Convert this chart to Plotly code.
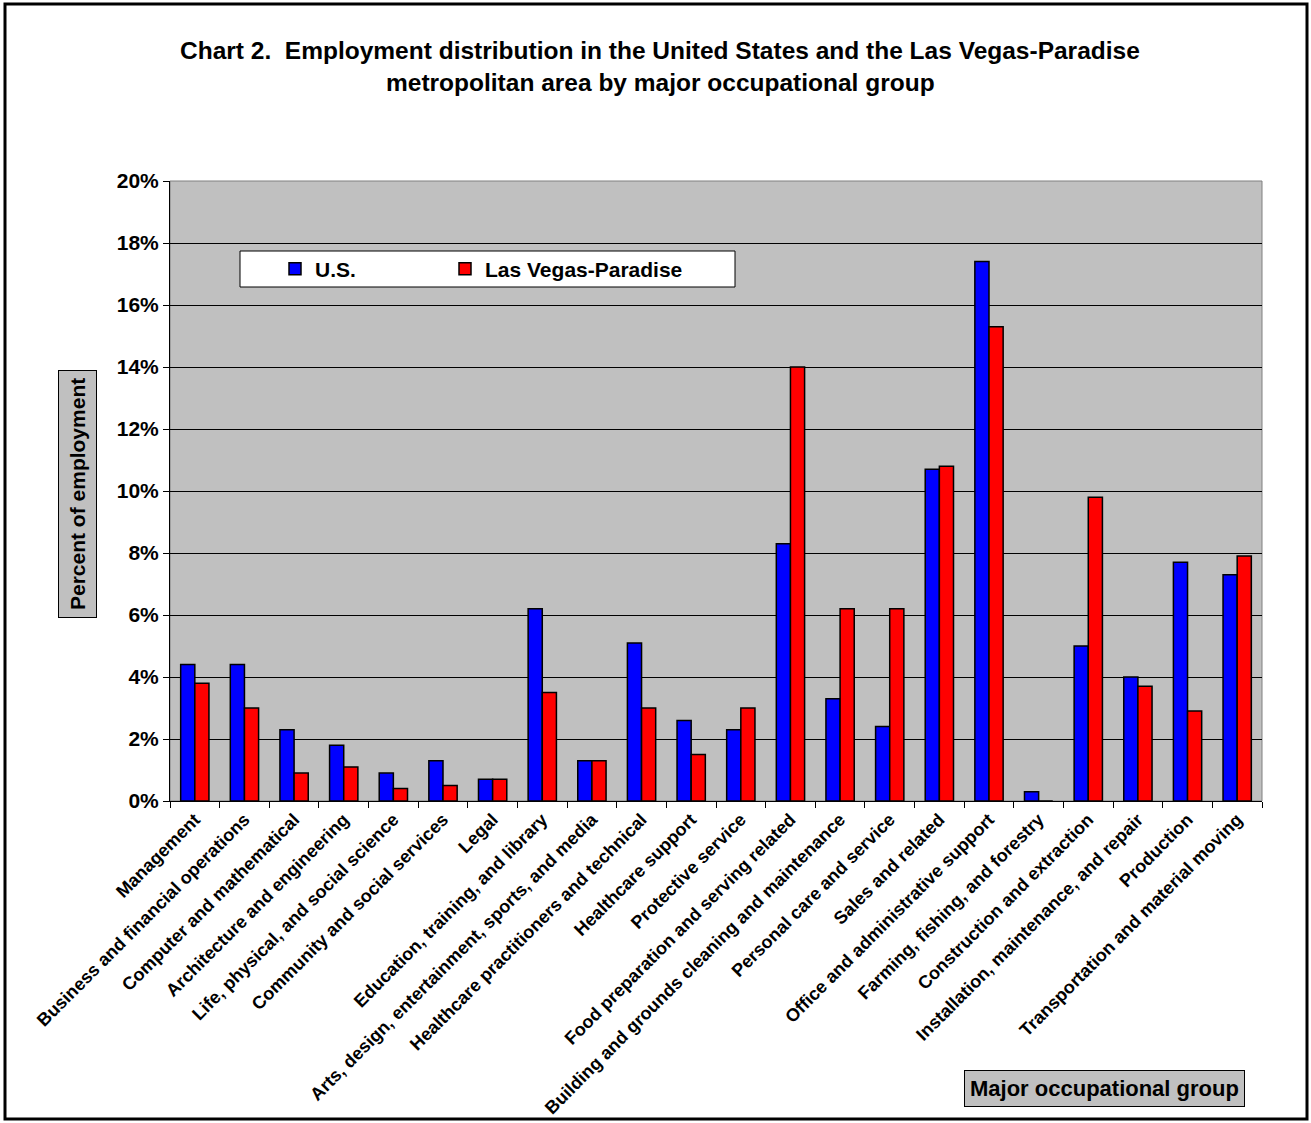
import plotly.graph_objects as go

categories = [
    "Management", "Business and financial operations", "Computer and mathematical",
    "Architecture and engineering", "Life, physical, and social science",
    "Community and social services", "Legal", "Education, training, and library",
    "Arts, design, entertainment, sports, and media", "Healthcare practitioners and technical",
    "Healthcare support", "Protective service", "Food preparation and serving related",
    "Building and grounds cleaning and maintenance", "Personal care and service",
    "Sales and related", "Office and administrative support", "Farming, fishing, and forestry",
    "Construction and extraction", "Installation, maintenance, and repair", "Production",
    "Transportation and material moving",
]
us_values = [4.4, 4.4, 2.3, 1.8, 0.9, 1.3, 0.7, 6.2, 1.3, 5.1, 2.6, 2.3, 8.3, 3.3, 2.4,
             10.7, 17.4, 0.3, 5.0, 4.0, 7.7, 7.3]
lv_values = [3.8, 3.0, 0.9, 1.1, 0.4, 0.5, 0.7, 3.5, 1.3, 3.0, 1.5, 3.0, 14.0, 6.2, 6.2,
             10.8, 15.3, 0.0, 9.8, 3.7, 2.9, 7.9]
y_ticks = [0, 2, 4, 6, 8, 10, 12, 14, 16, 18, 20]
y_tick_labels = [f"{v}%" for v in y_ticks]

W, H = 1311, 1123
L, R, T, B = 170, 1311 - 1262, 181, 1123 - 801
PW, PH = W - L - R, H - T - B

def px(x):
    return (x - L) / PW

def py(y):
    return (H - B - y) / PH

FONT = "Arial, Liberation Sans, sans-serif"

fig = go.Figure()
fig.add_trace(go.Bar(x=categories, y=us_values, name="U.S.", legend="legend",
                     marker=dict(color="#0000FF", line=dict(color="black", width=1.5))))
fig.add_trace(go.Bar(x=categories, y=lv_values, name="Las Vegas-Paradise", legend="legend2",
                     marker=dict(color="#FF0000", line=dict(color="black", width=1.5))))

legend_common = dict(
    orientation="h", yanchor="middle", xanchor="left",
    bgcolor="rgba(0,0,0,0)", borderwidth=0,
    font=dict(size=21, family=FONT, weight="bold"),
)

fig.update_layout(
    width=W, height=H,
    margin=dict(l=L, r=R, t=T, b=B, autoexpand=False),
    paper_bgcolor="white",
    plot_bgcolor="#C0C0C0",
    barmode="group",
    bargap=0.43,
    bargroupgap=0,
    font=dict(family=FONT, color="black", weight="bold"),
    showlegend=True,
    legend=dict(x=px(275), y=py(269), **legend_common),
    legend2=dict(x=px(445), y=py(269), **legend_common),
    xaxis=dict(
        type="category",
        tickangle=-45,
        automargin=False,
        tickfont=dict(size=18, family=FONT, weight="bold"),
        showline=True, linecolor="black", linewidth=1,
        ticks="outside", ticklen=6, tickcolor="black", tickson="boundaries",
        showgrid=False,
    ),
    yaxis=dict(
        range=[0, 20],
        automargin=False,
        tickvals=y_ticks, ticktext=y_tick_labels,
        tickfont=dict(size=21, family=FONT, weight="bold"),
        showline=True, linecolor="black", linewidth=1,
        ticks="outside", ticklen=6, tickcolor="black",
        showgrid=True, gridcolor="black", gridwidth=1,
        zeroline=False,
    ),
)

shapes = [
    dict(type="rect", xref="paper", yref="paper",
         x0=px(5), x1=px(1307), y0=py(1119), y1=py(4),
         line=dict(color="black", width=3), fillcolor="rgba(0,0,0,0)", layer="above"),
    dict(type="rect", xref="paper", yref="paper", x0=0, x1=1, y0=0, y1=1,
         line=dict(color="#808080", width=1), fillcolor="rgba(0,0,0,0)", layer="below"),
    dict(type="rect", xref="paper", yref="paper",
         x0=px(240), x1=px(735), y0=py(287), y1=py(251),
         line=dict(color="black", width=1), fillcolor="white", layer="above"),
]
fig.update_layout(shapes=shapes)

annotations = [
    dict(text="Chart 2.  Employment distribution in the United States and the Las Vegas-Paradise",
         xref="paper", yref="paper", x=px(660), y=py(50), showarrow=False,
         xanchor="center", yanchor="middle",
         font=dict(size=24.5, family=FONT, weight="bold")),
    dict(text="metropolitan area by major occupational group",
         xref="paper", yref="paper", x=px(660), y=py(82), showarrow=False,
         xanchor="center", yanchor="middle",
         font=dict(size=24.5, family=FONT, weight="bold")),
    dict(text="Percent of employment", textangle=-90,
         xref="paper", yref="paper", x=px(77), y=py(494), showarrow=False,
         xanchor="center", yanchor="middle",
         bgcolor="#C0C0C0", bordercolor="black", borderwidth=1, borderpad=7,
         font=dict(size=21, family=FONT, weight="bold")),
    dict(text="Major occupational group",
         xref="paper", yref="paper", x=px(1104), y=py(1088), showarrow=False,
         xanchor="center", yanchor="middle",
         bgcolor="#C0C0C0", bordercolor="black", borderwidth=1, borderpad=5,
         font=dict(size=22, family=FONT, weight="bold")),
]
fig.update_layout(annotations=annotations)

fig.write_html("out.html", config={"displayModeBar": False},
               post_script="document.body.style.margin='0';")
